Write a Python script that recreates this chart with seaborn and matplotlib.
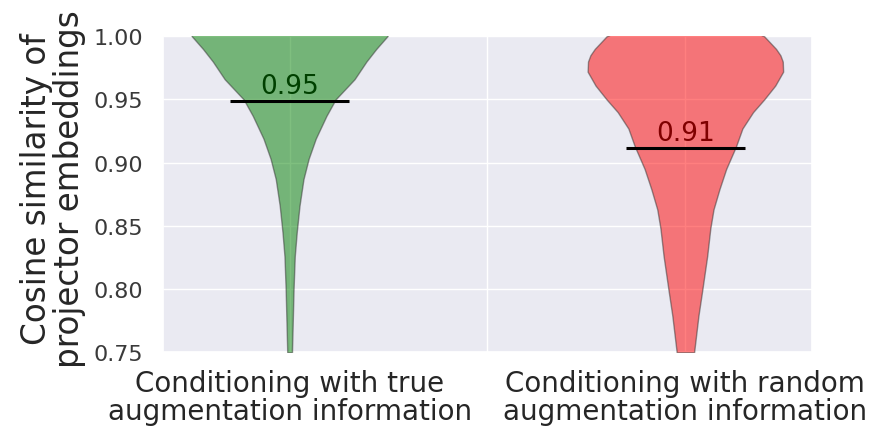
import matplotlib
matplotlib.use("Agg")
import matplotlib.pyplot as plt
import seaborn as sns

# category labels (x axis)
categories = ["Conditioning with true\naugmentation information",
              "Conditioning with random\naugmentation information"]
colors = ["green", "red"]

# violin outlines: cosine similarity level -> half width
green_y = [1.006, 1.000, 0.990, 0.980, 0.966, 0.950, 0.937, 0.919, 0.903,
           0.887, 0.866, 0.845, 0.826, 0.800, 0.775, 0.750]
green_hw = [0.255, 0.247, 0.219, 0.194, 0.164, 0.116, 0.093, 0.066, 0.048,
            0.035, 0.025, 0.018, 0.013, 0.010, 0.008, 0.006]

red_y = [1.004, 1.000, 0.990, 0.985, 0.980, 0.972, 0.961, 0.950, 0.940,
         0.927, 0.913, 0.895, 0.879, 0.863, 0.848, 0.826, 0.800, 0.779, 0.750]
red_hw = [0.170, 0.199, 0.229, 0.240, 0.246, 0.247, 0.227, 0.199, 0.171,
          0.144, 0.128, 0.103, 0.086, 0.071, 0.063, 0.055, 0.043, 0.033, 0.022]

medians = [0.949, 0.912]

yticks = [0.75, 0.80, 0.85, 0.90, 0.95, 1.00]

sns.set_theme(style="darkgrid")
plt.rcParams["font.family"] = ["DejaVu Sans"]

fig = plt.figure(figsize=(8.71, 4.31), dpi=100)
ax = fig.add_axes([0.1871, 0.1803, 0.7452, 0.7332])

profiles = [(green_y, green_hw), (red_y, red_hw)]
for i, (ys, hws) in enumerate(profiles):
    left = [i - w for w in hws]
    right = [i + w for w in hws]
    ax.fill_betweenx(ys, left, right, facecolor=colors[i], alpha=0.5,
                     edgecolor="#333333", linewidth=1.0, zorder=3)
    # median bar and its value
    ax.hlines(medians[i], i - 0.15, i + 0.15, color="black", lw=2.2, zorder=4)
    ax.text(i, medians[i] + 0.001, f"{medians[i]:.2f}", ha="center", va="bottom",
            fontsize=19, color="black", zorder=2)

ax.set_xlim(-0.32, 1.32)
ax.set_ylim(0.75, 1.00)
ax.set_xticks([0, 0.5, 1])
ax.set_xticklabels([categories[0], "", categories[1]], fontsize=20,
                   linespacing=1.0)
ax.set_yticks(yticks)
ax.set_yticklabels([f"{t:.2f}" for t in yticks], fontsize=16, color="#3a3a3a")
ax.tick_params(axis="x", pad=6)
ax.tick_params(axis="y", pad=8)
ax.set_ylabel("Cosine similarity of\nprojector embeddings", fontsize=23.5,
              linespacing=1.0)
ax.yaxis.set_label_coords(-0.118, 0.52)

fig.savefig("out.png", dpi=100)
